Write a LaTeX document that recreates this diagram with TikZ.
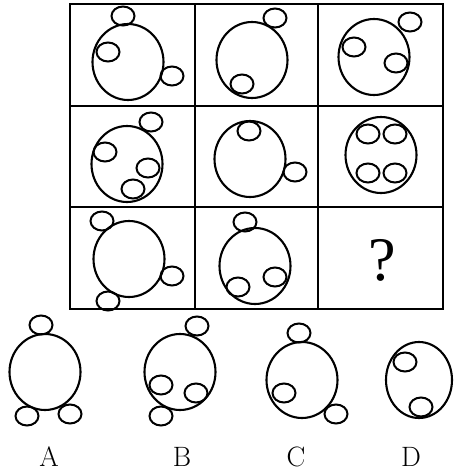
\documentclass[tikz,border=0pt]{standalone}
\usepackage{fontspec}
\usepackage{tikz}
\usetikzlibrary{shapes.geometric}
\newfontfamily\qfont{Liberation Serif}

\begin{document}
\begin{tikzpicture}[
  x=1pt, y=-1pt,
  gridline/.style={line width=2.4pt, line cap=rect},
  ring/.style={draw, ellipse, line width=2.1pt, inner sep=0pt, minimum width=71pt, minimum height=76pt},
  dot/.style={draw, ellipse, line width=2pt, inner sep=0pt, minimum width=23pt, minimum height=19pt},
  tag/.style={inner sep=0pt, font=\fontsize{28}{28}\selectfont}
]
  \useasboundingbox (0,0) rectangle (454,471);

  % grid
  \draw[gridline] (70,4) rectangle (443,309);
  \foreach \gx in {195,318} \draw[gridline] (\gx,4) -- (\gx,309);
  \foreach \gy in {106,207} \draw[gridline] (70,\gy) -- (443,\gy);

  % row 1
  \node[ring] (r11) at (128,62) {};
  \node[dot] (r11a) at (123,16) {};
  \node[dot] (r11b) at (108,52) {};
  \node[dot] (r11c) at (172,76) {};

  \node[ring] (r12) at (252,60) {};
  \node[dot] (r12a) at (275,18) {};
  \node[dot] (r12b) at (242,84) {};

  \node[ring] (r13) at (374,57) {};
  \node[dot] (r13a) at (410,22) {};
  \node[dot] (r13b) at (354,47) {};
  \node[dot] (r13c) at (396,63) {};

  % row 2
  \node[ring] (r21) at (127,164) {};
  \node[dot] (r21a) at (151,122) {};
  \node[dot] (r21b) at (105,152) {};
  \node[dot] (r21c) at (148,168) {};
  \node[dot] (r21d) at (133,189) {};

  \node[ring] (r22) at (250,159) {};
  \node[dot] (r22a) at (249,131) {};
  \node[dot] (r22b) at (295,172) {};

  \node[ring] (r23) at (381,155) {};
  \node[dot] (r23a) at (368,134) {};
  \node[dot] (r23b) at (395,134) {};
  \node[dot] (r23c) at (368,173) {};
  \node[dot] (r23d) at (395,173) {};

  % row 3
  \node[ring] (r31) at (129,259) {};
  \node[dot] (r31a) at (102,221) {};
  \node[dot] (r31b) at (172,276) {};
  \node[dot] (r31c) at (108,301) {};

  \node[ring] (r32) at (255,266) {};
  \node[dot] (r32a) at (245,222) {};
  \node[dot] (r32b) at (238,287) {};
  \node[dot] (r32c) at (275,277) {};

  \node[inner sep=0pt, font=\qfont\fontsize{62}{62}\selectfont] (q) at (382,260) {?};

  % answer options
  \node[ring] (oa) at (45,372) {};
  \node[dot] (oaa) at (41,325) {};
  \node[dot] (oab) at (27,416) {};
  \node[dot] (oac) at (70,414) {};

  \node[ring] (ob) at (180,372) {};
  \node[dot] (oba) at (197,326) {};
  \node[dot] (obb) at (161,385) {};
  \node[dot] (obc) at (196,393) {};
  \node[dot] (obd) at (161,416) {};

  \node[ring] (oc) at (302,380) {};
  \node[dot] (oca) at (299,333) {};
  \node[dot] (ocb) at (284,393) {};
  \node[dot] (occ) at (336,414) {};

  \node[ring, minimum width=66pt] (od) at (419,380) {};
  \node[dot] (oda) at (405,362) {};
  \node[dot] (odb) at (421,407) {};

  \node[tag] (la) at (49,457) {A};
  \node[tag] (lb) at (182,457) {B};
  \node[tag] (lc) at (296,457) {C};
  \node[tag] (ld) at (411,457) {D};
\end{tikzpicture}
\end{document}
